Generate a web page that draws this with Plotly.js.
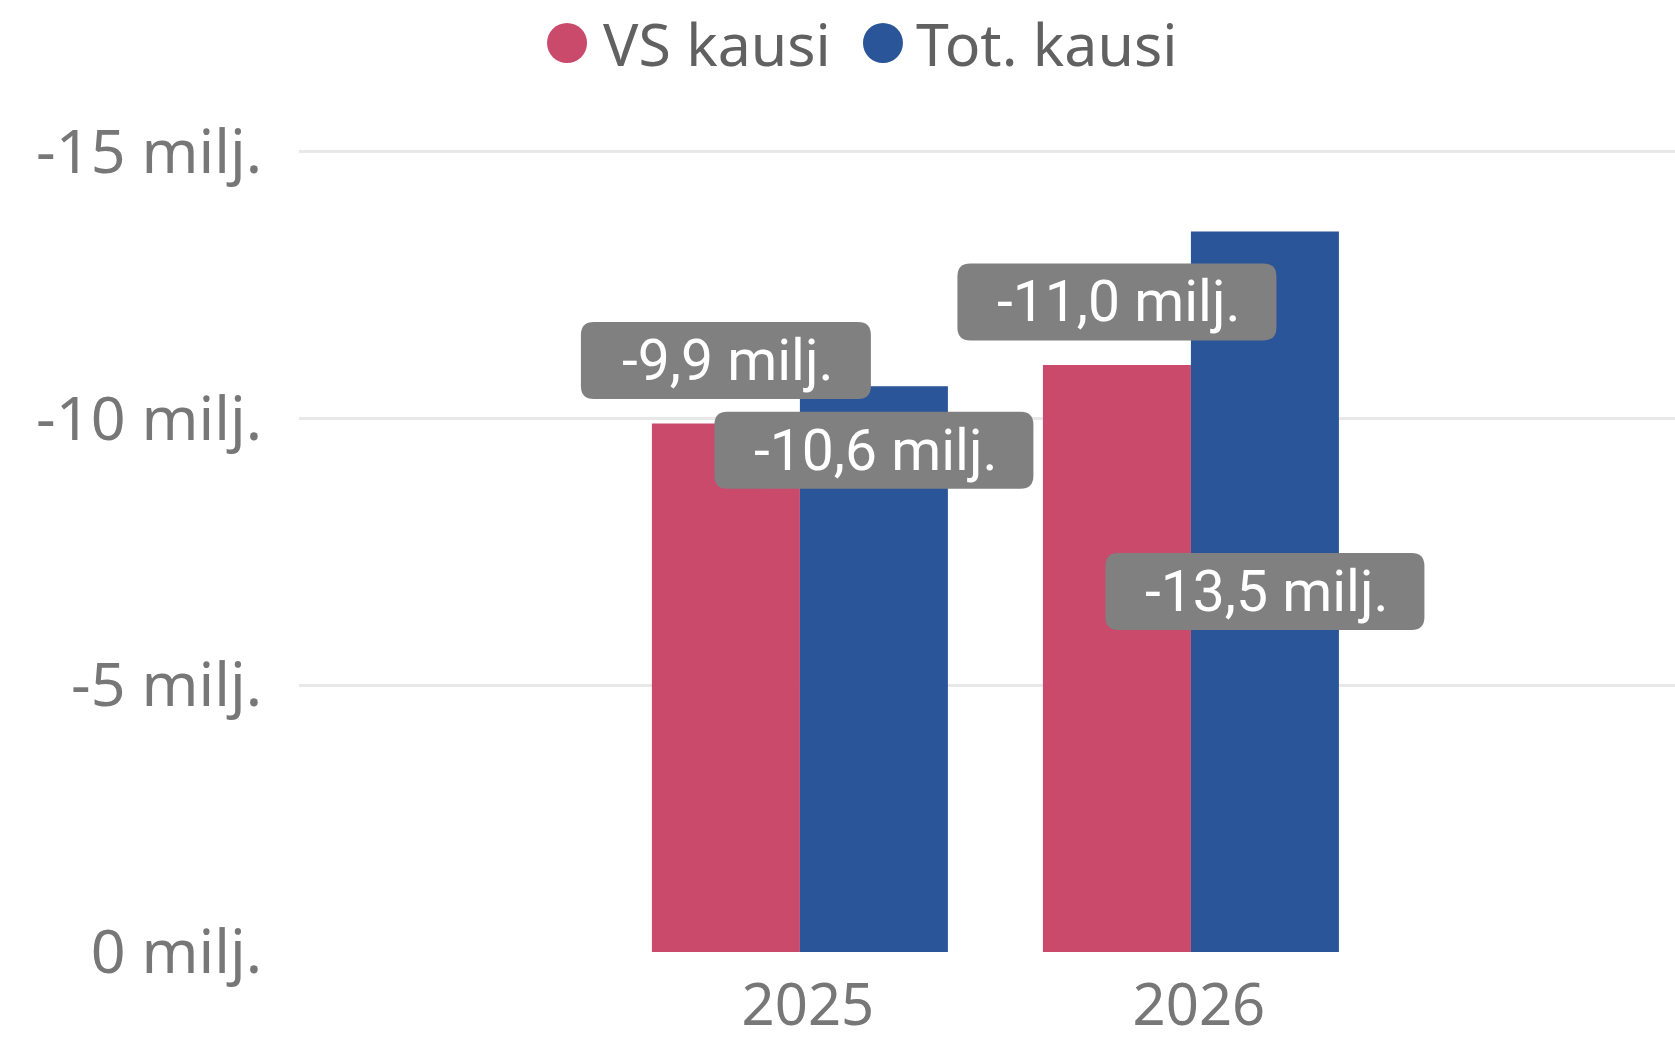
<!DOCTYPE html>
<html>
<head>
<meta charset="utf-8">
<script src="https://cdn.plot.ly/plotly-3.0.1.min.js"></script>
<style>
html,body{margin:0;padding:0;background:#fff;}
#chart{width:1675px;height:1041px;}
</style>
</head>
<body>
<div id="chart"></div>
<script>
// ---- data ----
var years = ['2025', '2026'];
var vsKausi = [-9.9, -11.0];
var totKausi = [-10.6, -13.5];
var seriesNames = ['VS kausi', 'Tot. kausi'];
var yTickVals = [0, -5, -10, -15];
var yTickText = ['0 milj.', '-5 milj.', '-10 milj.', '-15 milj.'];

// ---- style ----
var colVS = '#CA4A6B';
var colTot = '#2A5598';
var labelGray = '#808080';
var tickGray = '#777777';
var legendGray = '#616161';
var barHalf = 74;               // px offset of each bar centre from category centre
var labelShiftVS = [63, 63];    // px vertical shift of the data-label boxes
var labelShiftTot = [-64, -360];

function fmt(v) { return v.toFixed(1).replace('.', ',') + ' milj.'; }

function roundRect(cx, cy, w, h, r) {
  var x0 = cx - w / 2, x1 = cx + w / 2, yb = cy - h / 2, yt = cy + h / 2;
  return 'M' + (x0 + r) + ',' + yt +
    ' L' + (x1 - r) + ',' + yt +
    ' Q' + x1 + ',' + yt + ' ' + x1 + ',' + (yt - r) +
    ' L' + x1 + ',' + (yb + r) +
    ' Q' + x1 + ',' + yb + ' ' + (x1 - r) + ',' + yb +
    ' L' + (x0 + r) + ',' + yb +
    ' Q' + x0 + ',' + yb + ' ' + x0 + ',' + (yb + r) +
    ' L' + x0 + ',' + (yt - r) +
    ' Q' + x0 + ',' + yt + ' ' + (x0 + r) + ',' + yt + ' Z';
}

var traces = [
  {type: 'bar', name: seriesNames[0], x: years, y: vsKausi, marker: {color: colVS, line: {width: 0}}, hoverinfo: 'none'},
  {type: 'bar', name: seriesNames[1], x: years, y: totKausi, marker: {color: colTot, line: {width: 0}}, hoverinfo: 'none'}
];

var shapes = [];
var annotations = [];
var labelFont = {family: 'Roboto, sans-serif', size: 57, color: '#ffffff'};

function addLabel(i, v, dx, dy) {
  var txt = fmt(v);
  var w = 29 * txt.length;
  shapes.push({
    type: 'path', xref: 'x', yref: 'y', xsizemode: 'pixel', ysizemode: 'pixel',
    xanchor: i, yanchor: v, path: roundRect(dx, dy, w, 77, 13),
    fillcolor: labelGray, line: {width: 0}, layer: 'above'
  });
  annotations.push({
    xref: 'x', yref: 'y', x: i, y: v, xshift: dx + 2, yshift: dy,
    text: txt, showarrow: false, xanchor: 'center', yanchor: 'middle', font: labelFont
  });
}
for (var i = 0; i < years.length; i++) {
  addLabel(i, vsKausi[i], -barHalf, labelShiftVS[i]);
  addLabel(i, totKausi[i], barHalf, labelShiftTot[i]);
}

// custom legend (round markers)
var legendFont = {family: '"Noto Sans", sans-serif', size: 59, color: legendGray};
var legendItems = [
  {name: seriesNames[0], color: colVS, mx: 0.1948, tx: 0.2195},
  {name: seriesNames[1], color: colTot, mx: 0.4244, tx: 0.4470}
];
legendItems.forEach(function (it) {
  shapes.push({
    type: 'circle', xref: 'paper', yref: 'paper', xsizemode: 'pixel', ysizemode: 'pixel',
    xanchor: it.mx, yanchor: 1.0644, x0: -20, x1: 20, y0: -20, y1: 20,
    fillcolor: it.color, line: {width: 0}
  });
  annotations.push({
    xref: 'paper', yref: 'paper', x: it.tx, y: 1.0644, xanchor: 'left', yanchor: 'middle',
    text: it.name, showarrow: false, font: legendFont
  });
});

var tickFont = {family: '"Noto Sans", sans-serif', size: 61, color: tickGray};
var xTickFont = {family: '"Noto Sans", sans-serif', size: 58, color: tickGray};

var layout = {
  width: 1675, height: 1041,
  margin: {l: 299, r: 0, t: 98, b: 89, pad: 0},
  paper_bgcolor: '#ffffff', plot_bgcolor: '#ffffff',
  barmode: 'group', bargap: 0.243, bargroupgap: 0,
  showlegend: false,
  xaxis: {
    type: 'category', range: [-1.281, 2.238], showgrid: false, zeroline: false,
    showline: false, ticks: '', tickfont: xTickFont, ticklabelstandoff: 14, ticklabelshift: 8,
    fixedrange: true
  },
  yaxis: {
    range: [0, -16], tickvals: yTickVals, ticktext: yTickText, showgrid: true,
    gridcolor: '#E8E8E8', gridwidth: 3, zeroline: false, showline: false, ticks: '',
    tickfont: tickFont, ticklabelstandoff: 36, fixedrange: true
  },
  shapes: shapes,
  annotations: annotations
};

Plotly.newPlot('chart', traces, layout, {displayModeBar: false, staticPlot: true});
</script>
</body>
</html>
